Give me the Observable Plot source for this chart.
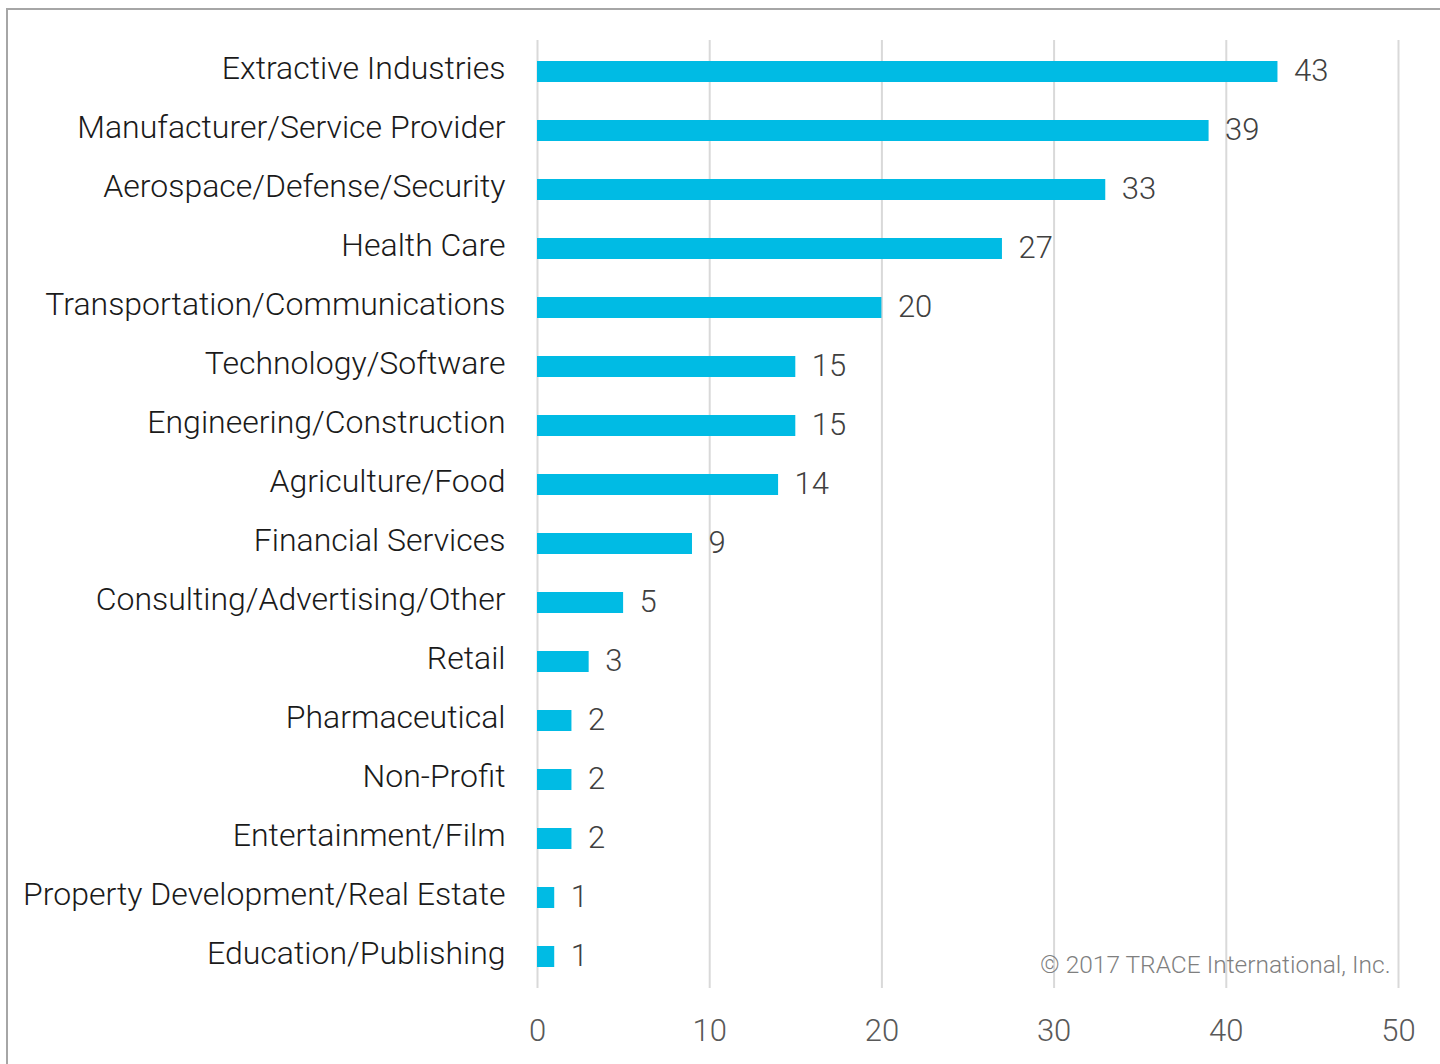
<!DOCTYPE html>
<html>
<head>
<meta charset="utf-8">
<script src="https://cdn.jsdelivr.net/npm/d3@7"></script>
<script src="https://cdn.jsdelivr.net/npm/@observablehq/plot@0.6"></script>
<style>
  html, body { margin: 0; padding: 0; background: #fff; overflow: hidden; }
  #wrap { position: relative; width: 1440px; height: 1064px; }
  #border { position: absolute; left: 6px; top: 8px; width: 1500px; height: 1200px;
            border-left: 2px solid #a6a6a6; border-top: 2px solid #a6a6a6; box-sizing: border-box; }
  #chart { position: absolute; left: 0; top: 0; }
  svg text { font-family: Roboto, "DejaVu Sans", sans-serif; font-weight: 300; }
</style>
</head>
<body>
<div id="wrap"><div id="border"></div><div id="chart"></div></div>
<script>
const categories = [
  "Extractive Industries",
  "Manufacturer/Service Provider",
  "Aerospace/Defense/Security",
  "Health Care",
  "Transportation/Communications",
  "Technology/Software",
  "Engineering/Construction",
  "Agriculture/Food",
  "Financial Services",
  "Consulting/Advertising/Other",
  "Retail",
  "Pharmaceutical",
  "Non-Profit",
  "Entertainment/Film",
  "Property Development/Real Estate",
  "Education/Publishing"
];
const values = [43, 39, 33, 27, 20, 15, 15, 14, 9, 5, 3, 2, 2, 2, 1, 1];
const xTicks = [0, 10, 20, 30, 40, 50];
const copyright = "© 2017 TRACE International, Inc.";

const data = categories.map((c, i) => ({category: c, value: values[i]}));

const chart = Plot.plot({
  width: 1440,
  height: 1064,
  marginLeft: 537,
  marginRight: 42,
  marginTop: 40,
  marginBottom: 76,
  style: {background: "transparent", overflow: "visible"},
  x: {domain: [0, 50], ticks: xTicks, label: null},
  y: {domain: categories, paddingInner: 0.64, paddingOuter: 0.32, label: null},
  marks: [
    Plot.ruleX(xTicks, {stroke: "#d9d9d9", strokeWidth: 2}),
    Plot.barX(data, {x: "value", y: "category", fill: "#00BBE4"}),
    Plot.text(data, {x: "value", y: "category", text: d => String(d.value), textAnchor: "start",
      dx: 16, dy: -1, fontSize: 31, fill: "#404040"}),
    Plot.axisX({ticks: xTicks, tickSize: 0, tickPadding: 30, fontSize: 31, fill: "#595959", label: null}),
    Plot.axisY({tickSize: 0, tickPadding: 32, dy: -3, fontSize: 32, fill: "#1a1a1a", label: null}),
    Plot.text([copyright], {frameAnchor: "bottom-right", dx: -8, dy: -16, fontSize: 24.5, fill: "#7f7f7f", text: d => d})
  ]
});
document.getElementById("chart").appendChild(chart);
</script>
</body>
</html>
